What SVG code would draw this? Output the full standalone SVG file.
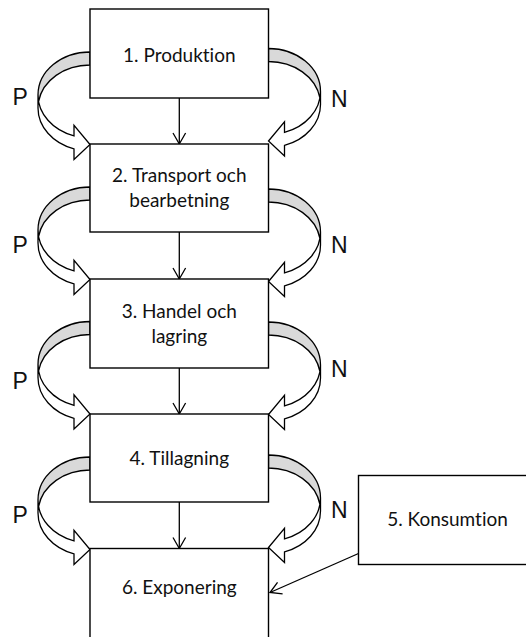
<svg xmlns="http://www.w3.org/2000/svg" xmlns:xlink="http://www.w3.org/1999/xlink" width="526" height="637" viewBox="0 0 526 637">
<style>
.box{fill:#fff;stroke:#000;stroke-width:1.4}
.lbl{font-family:Lato,"Liberation Sans",sans-serif;font-size:19px;fill:#111;text-anchor:middle;font-variant-ligatures:none}
.pn{font-family:"Liberation Sans",Arial,sans-serif;font-size:23px;fill:#111}
.conn{fill:none;stroke:#000;stroke-width:1.3}
.cw{fill:#fff;stroke:none}
.cd{fill:#d9d9d9;stroke:none}
.co{fill:none;stroke:#000;stroke-width:1.3;stroke-linejoin:miter}
</style>
<defs>
<marker id="v" markerUnits="userSpaceOnUse" markerWidth="16" markerHeight="16" refX="0" refY="0" viewBox="-13 -8 16 16" orient="auto" overflow="visible">
<path d="M -11,-6.3 L 0,0 L -11,6.3" fill="none" stroke="#000" stroke-width="1.3"/>
</marker>
<g id="curl">
<path class="cw" d="M -52,43 A 52 43 0 0 0 -16,83.91 L -16,73.41 L 0,92.5 L -16,107.41 L -16,96.91 A 52 43 0 0 1 -52,56 Z"/>
<path class="cd" d="M 0,13 A 52 43 0 0 0 -51.4,49.5 A 52 43 0 0 1 0,0 Z"/>
<path class="co" d="M -52,43 A 52 43 0 0 0 -16,83.91 L -16,73.41 L 0,92.5 L -16,107.41 L -16,96.91 A 52 43 0 0 1 -52,56 L -52,43 A 52 43 0 0 1 0,0 L 0,13 A 52 43 0 0 0 -51.4,49.5"/>
</g>
</defs>
<g id="connectors">
<line class="conn" x1="179.3" y1="98" x2="179.3" y2="144" marker-end="url(#v)"/>
<line class="conn" x1="179.3" y1="232" x2="179.3" y2="279" marker-end="url(#v)"/>
<line class="conn" x1="179.3" y1="368" x2="179.3" y2="414" marker-end="url(#v)"/>
<line class="conn" x1="179.3" y1="502" x2="179.3" y2="548.5" marker-end="url(#v)"/>
<line class="conn" x1="358.5" y1="553.5" x2="270" y2="592.5" marker-end="url(#v)"/>
<use xlink:href="#curl" transform="translate(90,52)"/>
<use xlink:href="#curl" transform="translate(90,187)"/>
<use xlink:href="#curl" transform="translate(90,321.5)"/>
<use xlink:href="#curl" transform="translate(90,457)"/>
<use xlink:href="#curl" transform="translate(268.5,48.5) scale(-1,1)"/>
<use xlink:href="#curl" transform="translate(268.5,189) scale(-1,1)"/>
<use xlink:href="#curl" transform="translate(268.5,322) scale(-1,1)"/>
<use xlink:href="#curl" transform="translate(268.5,455) scale(-1,1)"/>
<text class="pn" x="12.5" y="105">P</text>
<text class="pn" x="12.5" y="253">P</text>
<text class="pn" x="12.5" y="389">P</text>
<text class="pn" x="12.5" y="523">P</text>
<text class="pn" x="331" y="106.7">N</text>
<text class="pn" x="331" y="252.7">N</text>
<text class="pn" x="331" y="377">N</text>
<text class="pn" x="331" y="518.3">N</text>
</g>
<g id="n1"><rect class="box" x="90" y="9" width="178.5" height="89"/><text class="lbl" x="179.3" y="61.5">1. Produktion</text></g>
<g id="n2"><rect class="box" x="90" y="144" width="178.5" height="88"/><text class="lbl" x="179.3" y="182.3">2. Transport och</text><text class="lbl" x="179.3" y="206.7">bearbetning</text></g>
<g id="n3"><rect class="box" x="90" y="279" width="178.5" height="89"/><text class="lbl" x="179.3" y="318">3. Handel och</text><text class="lbl" x="179.3" y="342.5">lagring</text></g>
<g id="n4"><rect class="box" x="90" y="414" width="178.5" height="88"/><text class="lbl" x="179.3" y="464.5">4. Tillagning</text></g>
<g id="n6"><rect class="box" x="90" y="548.5" width="178.5" height="120"/><text class="lbl" x="179.3" y="593.5">6. Exponering</text></g>
<g id="n5"><rect class="box" x="358.5" y="475.5" width="200" height="89"/><text class="lbl" x="447.5" y="525.5">5. Konsumtion</text></g>
</svg>
